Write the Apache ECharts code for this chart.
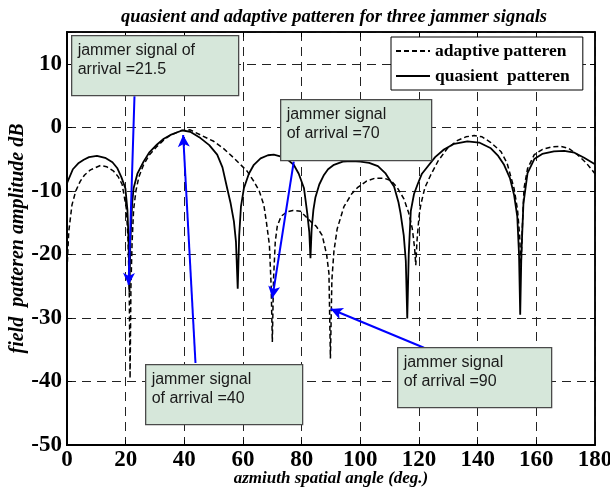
<!DOCTYPE html>
<html lang="en">
<head>
    <meta charset="utf-8">
    <title>quasient and adaptive patteren</title>
    <script type="text/javascript" src="https://cdn.jsdelivr.net/npm/echarts@6/dist/echarts.min.js"></script>
    <style>
        html, body { margin: 0; padding: 0; background: #fff; }
        #chartMain { width: 610px; height: 491px; }
    </style>
</head>
<body>
<div id="chartMain"></div>
<script type="text/javascript">
    // quiescent pattern (solid line)
    var quietAngle = [0, 2, 4, 5.7, 7.5, 10.2, 13, 15.5, 17.1, 18.5, 19.9, 20.6, 21, 21.3, 21.6, 22.2,
        22.7, 24, 26.1, 28, 30.7, 33, 35.3, 39.2, 42, 45.5, 48.5, 51.2, 53, 54.6, 55.8, 56.9, 57.6, 58.2,
        58.7, 59.3, 60.3, 62, 63.7, 66, 68.5, 70.5, 73, 75.5, 77.3, 79, 80.8, 81.9, 82.6, 83,
        83.4, 84, 84.7, 86, 87.6, 89, 91, 94, 97, 100, 103, 106, 108.5, 110.3, 111.5, 113, 113.7, 114.8, 115.5, 116,
        116.5, 117.2, 118.3, 119.5, 121, 122.9, 125.5, 128.5, 132, 136.5, 140.5, 144.5, 147, 149, 151, 152.4, 153.5, 154.1, 154.5,
        154.9, 155.6, 157, 159.3, 162, 166, 169.5, 173, 176.3, 180];
    var quietDb = [-8.8, -6.6, -5.6, -5.1, -4.7, -4.5, -4.8, -5.5, -6.4, -7.8, -9.6, -13, -18, -26, -18, -12,
        -9.6, -7.3, -5.4, -4.0, -2.7, -1.8, -1.2, -0.5, -0.7, -1.7, -2.8, -4.3, -6.3, -9.6, -12, -14.8, -18, -25.4,
        -17, -12.5, -9.6, -7.3, -5.9, -4.9, -4.4, -4.3, -4.6, -5.2, -5.9, -7.3, -9.6, -13.5, -16.5, -20.6,
        -16, -13, -11, -9, -7.5, -6.6, -5.9, -5.4, -5.3, -5.4, -5.6, -6.1, -7.2, -8.5, -9.3, -11.8, -13.5, -17, -21, -30.1,
        -20, -13.2, -10.5, -9.0, -7.3, -6.2, -4.7, -3.5, -2.6, -2.2, -2.4, -3.3, -4.5, -5.9, -8.0, -10.6, -14, -20, -29.5,
        -20, -12, -7.2, -5.0, -4.2, -3.8, -3.7, -4.0, -4.8, -5.8];

    // adaptive pattern (dashed line)
    var adaptAngle = [0, 0.6, 1.7, 3, 4.5, 6, 8, 11.4, 13.5, 15.9, 17.5, 18.8, 20.2, 20.8, 21.2, 21.5,
        21.8, 22.2, 22.7, 23.5, 24.5, 26, 28, 30.7, 33, 35, 39, 42, 45.5, 50, 53.5, 56.8, 59, 61.4, 63.7, 65.5, 67.1, 68, 69, 69.6, 70,
        70.4, 71, 71.7, 73, 75, 77, 79.6, 83, 85, 87, 88.5, 89.3, 89.8,
        90.3, 91, 92.1, 94.4, 97, 99, 102, 105, 108, 110.5, 112.6, 114.9, 116.5, 117.7, 118.5, 118.9,
        119.3, 120, 120.6, 122, 124, 126.5, 129.7, 133, 136, 138.8, 141.5, 144.5, 147.9, 150, 152.4, 153.6, 154.3, 154.8,
        155.2, 155.8, 157, 159.3, 162, 165, 168.4, 171, 174, 177, 180];
    var adaptDb = [-22.5, -16.4, -12.2, -10, -8.5, -7.5, -6.7, -6.0, -6.2, -6.9, -7.8, -9.0, -12.7, -17.5, -25, -39.5,
        -25, -18, -13, -10, -7.8, -6.0, -4.4, -3.0, -2.0, -1.3, -0.5, -0.4, -1.2, -2.2, -3.4, -4.8, -5.8, -6.9, -8.5, -10, -12.2, -15, -18.5, -25, -33.8,
        -24, -18, -15.5, -14, -13.3, -13.1, -13.2, -14.8, -15.6, -17, -20, -23, -36.4,
        -24, -19.5, -16, -12.5, -10.5, -9.5, -8.5, -8.0, -8.0, -8.4, -9.5, -11.3, -13.5, -15.9, -19, -21.7,
        -18, -14, -12.2, -9.5, -7.5, -5.3, -3.3, -2.1, -1.5, -1.3, -1.5, -2.4, -3.8, -5.6, -9.6, -13, -17, -22,
        -16, -9.6, -6.5, -4.3, -3.5, -3.1, -3.0, -3.3, -4.3, -5.6, -7.3];

    var dbTicks = [-50, -40, -30, -20, -10, 0, 10];

    // jammer annotations: arrow start / arrow tip in [deg, dB]
    var arrowFrom = [[23.0, 4.9], [43.8, -37.1], [77.3, -5.4], [121.7, -34.7]];
    var arrowTo = [[21.0, -24.8], [39.6, -1.2], [70.0, -26.9], [89.9, -28.6]];
    var noteText = ['jammer signal of\narrival =21.5', 'jammer signal\nof arrival =40',
        'jammer signal\nof arrival =70', 'jammer signal\nof arrival =90'];

    function zip(a, b) {
        var out = [];
        for (var i = 0; i < a.length; i++) out.push([a[i], b[i]]);
        return out;
    }

    var serifBold = {fontFamily: 'Liberation Serif', fontWeight: 'bold', color: '#000'};
    var serifTitle = {fontFamily: 'Liberation Serif', fontWeight: 'bold', fontStyle: 'italic', color: '#000'};

    var arrows = [];
    for (var i = 0; i < arrowFrom.length; i++) {
        arrows.push([{coord: arrowFrom[i]}, {coord: arrowTo[i]}]);
    }

    // note boxes: [left, top, width, height]
    var boxes = [[71, 35, 167, 60], [145, 364, 157, 60], [280, 99, 151, 61], [397, 347, 154, 60]];
    var graphics = boxes.map(function (b, k) {
        return {
            type: 'group', left: b[0], top: b[1],
            children: [{
                type: 'rect', z: 100, shape: {x: 0, y: 0, width: b[2], height: b[3]},
                style: {fill: '#d6e7da', stroke: '#4a4a4a', lineWidth: 1.3}
            }, {
                type: 'text', z: 101, x: 6, y: 5,
                style: {text: noteText[k], font: '16px "Liberation Sans"', fill: '#1a1a1a', lineHeight: 19}
            }]
        };
    });

    var chart = echarts.init(document.getElementById('chartMain'));
    chart.setOption({
        animation: false,
        title: {
            text: 'quasient and adaptive patteren for three jammer signals',
            left: 116, top: 3,
            textStyle: Object.assign({fontSize: 18.5}, serifTitle)
        },
        legend: {
            orient: 'vertical', left: 391, top: 37,
            data: ['adaptive patteren', 'quasient  patteren'],
            backgroundColor: '#fff', borderColor: '#000', borderWidth: 1,
            padding: [5, 13, 5, 4], itemGap: 7, itemWidth: 34, itemHeight: 10,
            itemStyle: {opacity: 0},
            textStyle: Object.assign({fontSize: 17.5}, serifBold)
        },
        grid: {
            left: 67, right: 15, top: 32, bottom: 46, outerBoundsMode: 'none',
            show: true, borderColor: '#000', borderWidth: 1.5
        },
        xAxis: [{
            type: 'value', min: 0, max: 180, interval: 20,
            name: 'azmiuth spatial angle (deg.)', nameLocation: 'middle', nameGap: 25, nameMoveOverlap: false,
            nameTextStyle: Object.assign({fontSize: 17}, serifTitle),
            axisLine: {onZero: false, lineStyle: {color: '#000', width: 2}},
            axisTick: {inside: true, length: 5, lineStyle: {color: '#000'}},
            axisLabel: Object.assign({fontSize: 23, margin: 4}, serifBold),
            splitLine: {show: true, lineStyle: {color: '#222', type: [9, 6], width: 1}}
        }, {
            type: 'value', min: 0, max: 180, interval: 20, position: 'top',
            axisLine: {onZero: false, lineStyle: {color: '#000', width: 1.5}},
            axisTick: {inside: true, length: 5, lineStyle: {color: '#000'}},
            axisLabel: {show: false}, splitLine: {show: false}
        }],
        yAxis: [{
            type: 'value', min: -50, max: 15, interval: 10,
            name: 'field  patteren amplitude dB', nameLocation: 'middle', nameGap: 39, nameRotate: 90,
            nameMoveOverlap: false,
            nameTextStyle: Object.assign({fontSize: 20}, serifTitle),
            axisLine: {onZero: false, lineStyle: {color: '#000', width: 2}},
            axisTick: {inside: true, length: 5, lineStyle: {color: '#000'}},
            axisLabel: Object.assign({
                fontSize: 23, margin: 5,
                formatter: function (v) { return dbTicks.indexOf(v) >= 0 ? String(v) : ''; }
            }, serifBold),
            splitLine: {show: true, lineStyle: {color: '#222', type: [9, 6], width: 1}}
        }, {
            type: 'value', min: -50, max: 15, interval: 10, position: 'right',
            axisLine: {onZero: false, lineStyle: {color: '#000', width: 1.5}},
            axisTick: {inside: true, length: 5, lineStyle: {color: '#000'}},
            axisLabel: {show: false}, splitLine: {show: false}
        }],
        series: [{
            name: 'adaptive patteren', type: 'line', symbol: 'none',
            lineStyle: {color: '#000', width: 1.5, type: [5, 3]},
            itemStyle: {color: '#000'},
            data: zip(adaptAngle, adaptDb)
        }, {
            name: 'quasient  patteren', type: 'line', symbol: 'none',
            lineStyle: {color: '#000', width: 1.8},
            itemStyle: {color: '#000'},
            data: zip(quietAngle, quietDb),
            markLine: {
                silent: true, symbol: ['none', 'arrow'], symbolSize: [9, 12],
                lineStyle: {color: '#0000ff', width: 2, type: 'solid'},
                label: {show: false}, emphasis: {disabled: true},
                data: arrows
            }
        }],
        graphic: graphics
    });
</script>
</body>
</html>
